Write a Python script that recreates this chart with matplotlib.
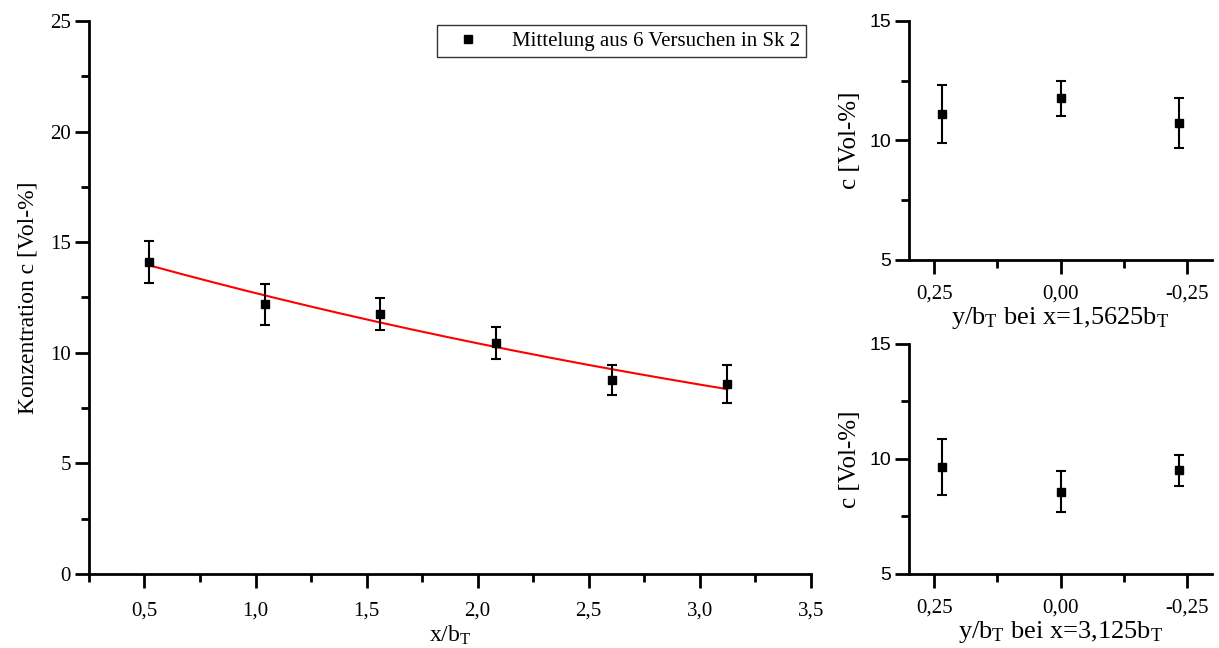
import matplotlib.pyplot as plt
import numpy as np
from matplotlib.lines import Line2D
from matplotlib.ticker import FuncFormatter, MultipleLocator

plt.rcParams['font.family'] = ['Liberation Serif', 'DejaVu Serif']
plt.rcParams['mathtext.default'] = 'regular'

# main panel: concentration along the axis
x_pos = [0.521, 1.042, 1.5625, 2.083, 2.604, 3.125]
c_mean = [14.1, 12.19, 11.75, 10.44, 8.77, 8.58]
c_err = [0.94, 0.93, 0.72, 0.74, 0.68, 0.86]

# cross sections
y_pos = [0.234, 0.0, -0.234]
c_x1 = [11.1, 11.77, 10.74]
err_x1 = [1.22, 0.74, 1.05]
c_x2 = [9.65, 8.58, 9.51]
err_x2 = [1.23, 0.88, 0.67]

legend_label = 'Mittelung aus 6 Versuchen in Sk 2'


def comma(fmt):
    return FuncFormatter(lambda v, p: (fmt % v).replace('.', ','))


def style(ax):
    for s in ['top', 'right']:
        ax.spines[s].set_visible(False)
    for s in ['left', 'bottom']:
        ax.spines[s].set_linewidth(2)
    ax.tick_params(which='major', direction='out', length=10, width=2, labelsize=15)
    ax.tick_params(which='minor', direction='out', length=6, width=2)
    ax.tick_params(axis='x', pad=10)
    ax.tick_params(axis='y', pad=3)


fig = plt.figure(figsize=(12.19, 6.48), dpi=100)
ax = fig.add_axes([0.073, 0.1142, 0.592, 0.8534])
ax_t = fig.add_axes([0.7457, 0.5988, 0.2486, 0.3688])
ax_b = fig.add_axes([0.7457, 0.1142, 0.2486, 0.355])

eb_kw = dict(fmt='s', color='black', ms=6, capsize=3.5, elinewidth=1.5, capthick=1.5)

ax.errorbar(x_pos, c_mean, yerr=c_err, **eb_kw)
# exponential fit through the measured points
b, a = np.polyfit(x_pos, np.log(c_mean), 1)
xf = np.linspace(x_pos[0], x_pos[-1], 200)
ax.plot(xf, np.exp(a + b * xf), color='red', lw=1.5, zorder=1)

ax.set_xlim(0.25, 3.5)
ax.set_ylim(0, 25)
ax.xaxis.set_major_locator(MultipleLocator(0.5))
ax.xaxis.set_minor_locator(MultipleLocator(0.25))
ax.yaxis.set_major_locator(MultipleLocator(5))
ax.yaxis.set_minor_locator(MultipleLocator(2.5))
ax.xaxis.set_major_formatter(comma('%.1f'))
ax.set_xlabel('x/b$_T$', fontsize=17, labelpad=2)
ax.set_ylabel('Konzentration c [Vol-%]', fontsize=17, labelpad=8)
style(ax)
handle = Line2D([], [], marker='s', ls='none', color='black', ms=6)
leg = ax.legend([handle], [legend_label], loc='upper right', fontsize=15,
                frameon=True, fancybox=False, edgecolor='black',
                handlelength=2.4, handletextpad=0.9, borderaxespad=0.2, borderpad=0.3)
leg.get_frame().set_linewidth(1.0)

for a_, c, e, lab in [(ax_t, c_x1, err_x1, 'y/b$_T$ bei x=1,5625b$_T$'),
                      (ax_b, c_x2, err_x2, 'y/b$_T$ bei x=3,125b$_T$')]:
    a_.errorbar(y_pos, c, yerr=e, **eb_kw)
    a_.set_xlim(0.3, -0.3)
    a_.set_ylim(5, 15)
    a_.xaxis.set_major_locator(MultipleLocator(0.25))
    a_.xaxis.set_minor_locator(MultipleLocator(0.125))
    a_.yaxis.set_major_locator(MultipleLocator(5))
    a_.yaxis.set_minor_locator(MultipleLocator(2.5))
    a_.xaxis.set_major_formatter(comma('%.2f'))
    a_.set_xlabel(lab, fontsize=19, labelpad=1)
    a_.set_ylabel('c [Vol-%]', fontsize=18, labelpad=6)
    style(a_)
    a_.tick_params(axis='x', pad=8)
    for t in a_.get_yticklabels():
        t.set_family('Liberation Sans')
        t.set_fontsize(14)

fig.savefig('out.png', dpi=100, facecolor='white')
plt.close(fig)
